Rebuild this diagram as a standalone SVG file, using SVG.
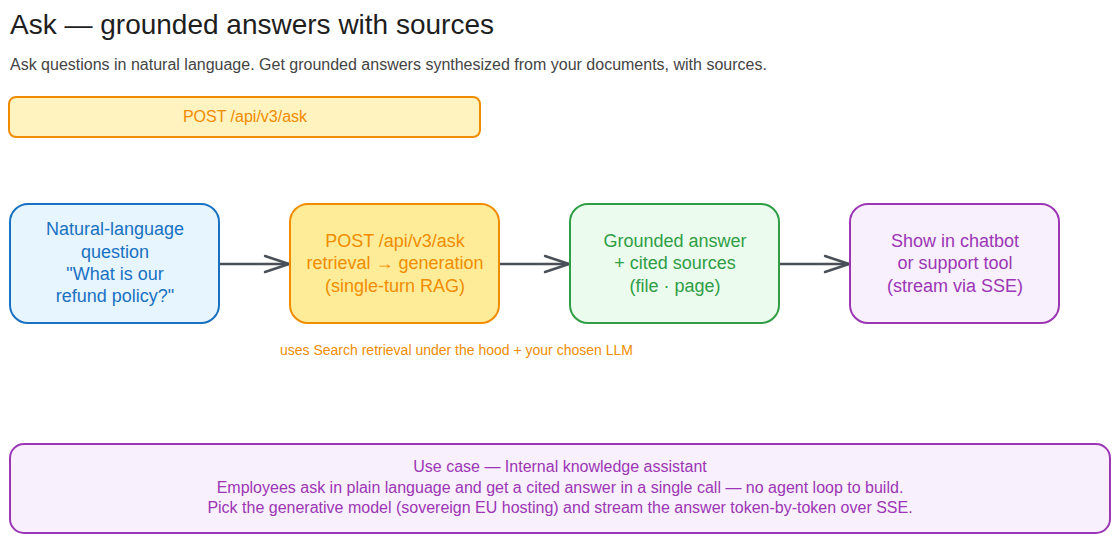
<svg xmlns="http://www.w3.org/2000/svg" width="1120" height="544" viewBox="0 0 1120 544">
<defs>
<marker id="arr" viewBox="0 0 30 20" refX="27" refY="10" markerWidth="30" markerHeight="20" markerUnits="userSpaceOnUse" orient="auto">
<path d="M3,2 L27,10 L3,18" fill="none" stroke="#495057" stroke-width="2.4" stroke-linecap="round" stroke-linejoin="round"/>
</marker>
<style>
text{font-family:"Liberation Sans",Arial,sans-serif}
.title{font-size:28px;fill:#1e1e1e}
.sub{font-size:16px;fill:#444}
.lbl{font-size:18px;text-anchor:middle}
.box{stroke-width:2}
.edge{fill:none;stroke:#495057;stroke-width:2.5}
</style>
</defs>
<rect width="1120" height="544" fill="#fff"/>
<text class="title" x="10" y="34">Ask — grounded answers with sources</text>
<text class="sub" x="10" y="70">Ask questions in natural language. Get grounded answers synthesized from your documents, with sources.</text>
<g id="banner">
<rect class="box" x="9" y="97" width="471" height="40" rx="7" fill="#fff3bf" stroke="#f08c00"/>
<text x="245" y="122" font-size="16" text-anchor="middle" fill="#f08c00">POST /api/v3/ask</text>
</g>
<g id="connectors">
<path class="edge" d="M219,264 L289,264" marker-end="url(#arr)"/>
<path class="edge" d="M499,264 L569,264" marker-end="url(#arr)"/>
<path class="edge" d="M779,264 L849,264" marker-end="url(#arr)"/>
</g>
<g id="question">
<rect class="box" x="10" y="204" width="209" height="119" rx="18" fill="#e7f5ff" stroke="#1971c2"/>
<text class="lbl" fill="#1971c2"><tspan x="115" y="235">Natural-language</tspan><tspan x="115" y="258">question</tspan><tspan x="115" y="280">"What is our</tspan><tspan x="115" y="302">refund policy?"</tspan></text>
</g>
<g id="ask">
<rect class="box" x="290" y="204" width="209" height="119" rx="18" fill="#ffec99" stroke="#f08c00"/>
<text class="lbl" fill="#f08c00"><tspan x="395" y="247">POST /api/v3/ask</tspan><tspan x="395" y="269">retrieval → generation</tspan><tspan x="395" y="292">(single-turn RAG)</tspan></text>
</g>
<g id="answer">
<rect class="box" x="570" y="204" width="209" height="119" rx="18" fill="#ebfbee" stroke="#2f9e44"/>
<text class="lbl" fill="#2f9e44"><tspan x="675" y="247">Grounded answer</tspan><tspan x="675" y="269">+ cited sources</tspan><tspan x="675" y="292">(file · page)</tspan></text>
</g>
<g id="show">
<rect class="box" x="850" y="204" width="209" height="119" rx="18" fill="#f8f0fc" stroke="#9c36b5"/>
<text class="lbl" fill="#9c36b5"><tspan x="955" y="247">Show in chatbot</tspan><tspan x="955" y="269">or support tool</tspan><tspan x="955" y="292">(stream via SSE)</tspan></text>
</g>
<g id="note">
<text x="280" y="355" font-size="14" fill="#f08c00">uses Search retrieval under the hood + your chosen LLM</text>
</g>
<g id="usecase">
<rect class="box" x="10" y="444" width="1100" height="89" rx="14" fill="#f8f0fc" stroke="#9c36b5"/>
<text font-size="16" text-anchor="middle" fill="#9c36b5"><tspan x="560" y="472">Use case — Internal knowledge assistant</tspan><tspan x="560" y="493">Employees ask in plain language and get a cited answer in a single call — no agent loop to build.</tspan><tspan x="560" y="513">Pick the generative model (sovereign EU hosting) and stream the answer token-by-token over SSE.</tspan></text>
</g>
</svg>
